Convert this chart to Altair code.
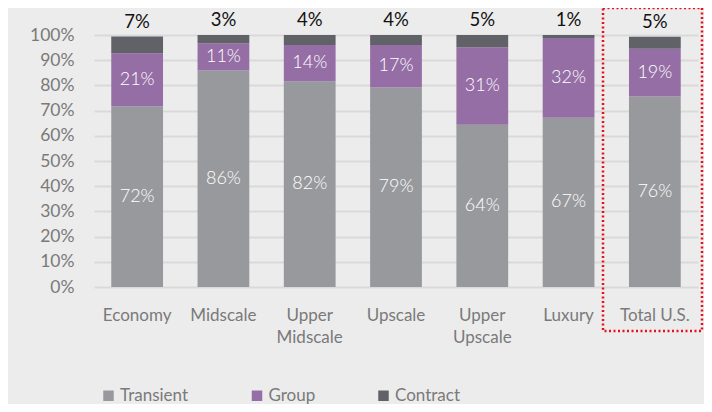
import altair as alt
import pandas as pd

categories = ["Economy", "Midscale", "Upper Midscale", "Upscale", "Upper Upscale", "Luxury", "Total U.S."]
transient = [71.7, 85.9, 81.6, 79.2, 64.4, 67.2, 75.6]
group = [21.1, 10.8, 14.4, 16.8, 30.7, 31.6, 18.9]
contract = [6.6, 3.3, 4.0, 4.0, 4.9, 1.2, 4.8]
segments = ["Transient", "Group", "Contract"]
colors = ["#98999d", "#966ea6", "#616267"]
y_ticks = [0, 10, 20, 30, 40, 50, 60, 70, 80, 90, 100]

rows = []
for i, c in enumerate(categories):
    base = 0.0
    for s, vals in zip(segments, [transient, group, contract]):
        v = vals[i]
        rows.append({"cat": c, "seg": s, "v": v,
                     "y0": base, "y1": base + v, "mid": base + v / 2,
                     "label": f"{round(v):d}%"})
        base += v
df = pd.DataFrame(rows)

FONT = "Lato"
AX = "#7a7a7a"
xenc = alt.X("cat:N", sort=categories, title=None,
             scale=alt.Scale(paddingInner=0.4, paddingOuter=0.2),
             axis=alt.Axis(labelAngle=0, labelFontSize=17, labelColor=AX,
                           labelFont=FONT, labelPadding=20, labelLineHeight=22,
                           labelExpr="indexof(datum.label, 'Upper') == 0 ? split(datum.label, ' ') : datum.label",
                           domain=False, ticks=False, grid=False, labelBaseline="top"))
yaxis = alt.Axis(values=y_ticks, labelExpr="datum.value + '%'",
                 labelFontSize=17.5, labelColor=AX, labelFont=FONT,
                 labelPadding=20, domain=False, ticks=False,
                 gridColor="#d9d9d9", gridWidth=2, labelOverlap=False)
yscale = alt.Scale(domain=[0, 100], nice=False)

bars = alt.Chart(df).mark_bar().encode(
    x=xenc,
    y=alt.Y("y0:Q", title=None, scale=yscale, axis=yaxis),
    y2="y1:Q",
    color=alt.Color("seg:N", sort=segments,
                    scale=alt.Scale(domain=segments, range=colors),
                    legend=alt.Legend(title=None, orient="none", direction="horizontal",
                                      legendX=6, legendY=352, symbolType="square",
                                      symbolSize=110, symbolStrokeWidth=0,
                                      labelFontSize=17, labelColor=AX,
                                      labelFont=FONT, columnPadding=59.5, labelOffset=3)),
)

inner = alt.Chart(df[df.seg != "Contract"]).mark_text(
    color="white", fontSize=18, font=FONT, fontWeight=300
).encode(x=alt.X("cat:N", sort=categories),
         y=alt.Y("mid:Q", title=None, scale=yscale, axis=yaxis), text="label:N")

top = alt.Chart(df[df.seg == "Contract"]).mark_text(
    color="#111111", fontSize=18.5, font=FONT, baseline="bottom", dy=-5
).encode(x=alt.X("cat:N", sort=categories),
         y=alt.Y("y1:Q", title=None, scale=yscale, axis=yaxis), text="label:N")

box = alt.Chart(pd.DataFrame({"k": [0]})).mark_rect(
    filled=False, stroke="#e8101c", strokeWidth=2.5, strokeDash=[2, 2.5], clip=False
).encode(x=alt.value(509), x2=alt.value(608), y=alt.value(-27), y2=alt.value(296))

chart = alt.layer(bars, inner, top, box).properties(
    width=604, height=252,
    autosize=alt.AutoSizeParams(type="none"),
    padding={"left": 86, "top": 27, "right": 6, "bottom": 117},
    background="#ececec",
).configure_view(stroke=None)

chart.save("out.html", embed_options={"renderer": "svg", "actions": False})
